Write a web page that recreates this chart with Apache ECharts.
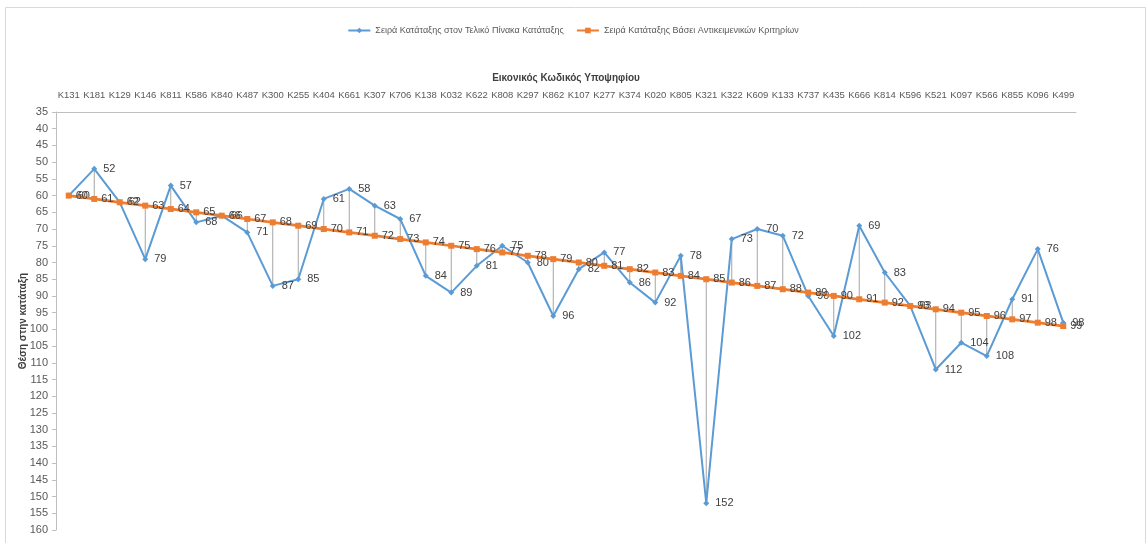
<!DOCTYPE html>
<html>
<head>
<meta charset="utf-8">
<script src="https://cdn.jsdelivr.net/npm/echarts@6/dist/echarts.min.js"></script>
<style>html,body{margin:0;padding:0;background:#fff}#c{width:1146px;height:543px}</style>
</head>
<body>
<div id="c"></div>
<script>
const categories = ['K131','K181','K129','K146','K811','K586','K840','K487','K300','K255','K404','K661','K307','K706','K138','K032','K622','K808','K297','K862','K107','K277','K374','K020','K805','K321','K322','K609','K133','K737','K435','K666','K814','K596','K521','K097','K566','K855','K096','K499'];
const finalRank = [60,52,62,79,57,68,66,71,87,85,61,58,63,67,84,89,81,75,80,96,82,77,86,92,78,152,73,70,72,90,102,69,83,93,112,104,108,91,76,98];
const objectiveRank = [60,61,62,63,64,65,66,67,68,69,70,71,72,73,74,75,76,77,78,79,80,81,82,83,84,85,86,87,88,89,90,91,92,93,94,95,96,97,98,99];
const seriesNames = ['Σειρά Κατάταξης στον Τελικό Πίνακα Κατάταξης','Σειρά Κατάταξης Βάσει Αντικειμενικών Κριτηρίων'];
const xTitle = 'Εικονικός Κωδικός Υποψηφίου';
const yTitle = 'Θέση στην κατάταξη';

const FONT = '"Liberation Sans", Arial, sans-serif';
const chart = echarts.init(document.getElementById('c'));
const dropData = categories.map((c, i) => [i, finalRank[i], objectiveRank[i]]);
chart.setOption({
  animation: false,
  textStyle: { fontFamily: FONT },
  graphic: [{ type: 'rect', shape: { x: 5.5, y: 7.5, width: 1140, height: 545 }, style: { fill: 'none', stroke: '#D9D9D9', lineWidth: 1 }, silent: true }],
  legend: {
    top: 21, left: 'center',
    itemWidth: 22, itemHeight: 7, itemGap: 12,
    textStyle: { fontFamily: FONT, fontSize: 9, color: '#595959' },
    data: seriesNames
  },
  grid: { left: 56, right: 70, top: 112, bottom: 13 },
  xAxis: {
    type: 'category', position: 'top', data: categories,
    name: xTitle, nameLocation: 'middle', nameGap: 29,
    nameTextStyle: { fontFamily: FONT, fontWeight: 'bold', fontSize: 10, color: '#404040' },
    axisLine: { lineStyle: { color: '#BFBFBF' } },
    axisTick: { show: false },
    axisLabel: { interval: 0, fontSize: 9.5, color: '#595959', margin: 12 }
  },
  yAxis: {
    type: 'value', inverse: true, min: 35, max: 160, interval: 5,
    name: yTitle, nameLocation: 'middle', nameGap: 28, nameRotate: 90,
    nameMoveOverlap: false,
    nameTextStyle: { fontFamily: FONT, fontWeight: 'bold', fontSize: 10, color: '#404040' },
    axisLine: { show: true, lineStyle: { color: '#BFBFBF' } },
    axisTick: { show: true, length: 4, lineStyle: { color: '#BFBFBF' } },
    axisLabel: { fontSize: 11, color: '#595959', margin: 8 },
    splitLine: { show: false }
  },
  series: [
    {
      type: 'custom', name: 'drop', z: 1, silent: true,
      data: dropData,
      encode: { x: 0, y: [1, 2] },
      renderItem: function (params, api) {
        const a = api.coord([api.value(0), api.value(1)]);
        const b = api.coord([api.value(0), api.value(2)]);
        return { type: 'line', shape: { x1: a[0], y1: a[1], x2: b[0], y2: b[1] }, style: { stroke: '#A5A5A5', lineWidth: 1 } };
      }
    },
    {
      name: seriesNames[1], type: 'line', data: objectiveRank, z: 3,
      color: '#ED7D31',
      lineStyle: { width: 2.75, color: '#ED7D31' },
      symbol: 'rect', symbolSize: 6,
      itemStyle: { color: '#ED7D31' },
      label: { show: true, position: 'right', distance: 4, fontSize: 11, color: '#404040' }
    },
    {
      name: seriesNames[0], type: 'line', data: finalRank, z: 2,
      color: '#5B9BD5',
      lineStyle: { width: 2, color: '#5B9BD5' },
      symbol: 'diamond', symbolSize: 6,
      itemStyle: { color: '#5B9BD5' },
      label: { show: true, position: 'right', distance: 6, fontSize: 11, color: '#404040' }
    }
  ]
});
</script>
</body>
</html>
